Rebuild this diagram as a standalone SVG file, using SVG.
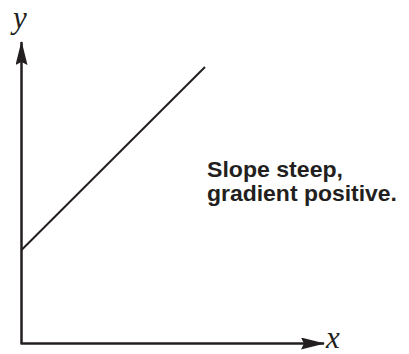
<svg xmlns="http://www.w3.org/2000/svg" width="409" height="354" viewBox="0 0 409 354">
<style>
.ax{stroke:#231f20;stroke-width:2.5;fill:none}
.ln{stroke:#231f20;stroke-width:2;fill:none}
.lab{font-family:"Liberation Serif",serif;font-style:italic;font-size:31px;fill:#231f20}
.t{font-family:"Liberation Sans",Arial,sans-serif;font-weight:bold;font-size:21.4px;fill:#231f20}
</style>
<defs>
<marker id="ah" viewBox="0 0 24 12" refX="23" refY="6" markerWidth="24" markerHeight="12" markerUnits="userSpaceOnUse" orient="auto">
<path d="M0,0 L24,6 L0,12 L3,6 Z" fill="#231f20"/>
</marker>
</defs>
<g id="connectors">
<path class="ax" d="M21.5,343.5 V42" marker-end="url(#ah)"/>
<path class="ax" d="M20.5,343.5 H324" marker-end="url(#ah)"/>
</g>
<g id="line"><path class="ln" d="M21.5,250 L205,67"/></g>
<g id="ylabel"><text class="lab" x="13" y="28">y</text></g>
<g id="xlabel"><text class="lab" x="326" y="347.5">x</text></g>
<g id="caption">
<text class="t" x="207" y="177" textLength="136" lengthAdjust="spacingAndGlyphs">Slope steep,</text>
<text class="t" x="207" y="201" textLength="190" lengthAdjust="spacingAndGlyphs">gradient positive.</text>
</g>
</svg>
